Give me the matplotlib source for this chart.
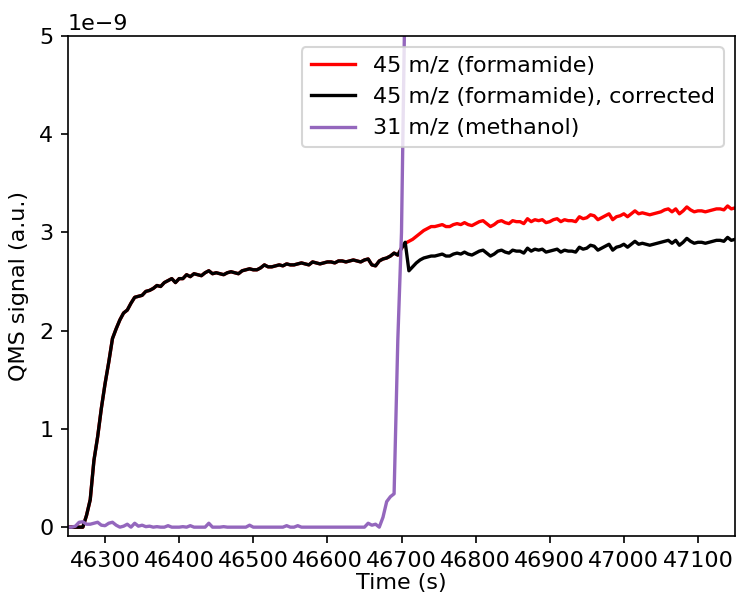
import numpy as np
import matplotlib
matplotlib.use("Agg")
import matplotlib.pyplot as plt

plt.rcParams["font.size"] = 10.7

# time axis (s), sampled every 5 s
t_start, t_step = 46250, 5

# 45 m/z (formamide), raw signal (x1e-9)
formamide = [
    0.00, 0.00, 0.00, 0.00, 0.00, 0.12, 0.28, 0.68, 0.92, 1.21,
    1.46, 1.68, 1.92, 2.02, 2.11, 2.18, 2.21, 2.28, 2.34, 2.35,
    2.36, 2.40, 2.41, 2.43, 2.46, 2.45, 2.49, 2.51, 2.53, 2.49,
    2.53, 2.53, 2.57, 2.55, 2.58, 2.57, 2.56, 2.59, 2.61, 2.58,
    2.59, 2.58, 2.57, 2.59, 2.60, 2.59, 2.58, 2.61, 2.62, 2.63,
    2.62, 2.62, 2.64, 2.67, 2.65, 2.65, 2.66, 2.67, 2.66, 2.68,
    2.67, 2.67, 2.68, 2.69, 2.68, 2.67, 2.70, 2.69, 2.68, 2.69,
    2.70, 2.70, 2.69, 2.71, 2.71, 2.70, 2.71, 2.72, 2.71, 2.70,
    2.72, 2.73, 2.67, 2.66, 2.71, 2.73, 2.74, 2.76, 2.79, 2.77,
    2.84, 2.89, 2.91, 2.93, 2.96, 2.99, 3.02, 3.04, 3.06, 3.06,
    3.07, 3.08, 3.06, 3.06, 3.08, 3.09, 3.08, 3.10, 3.08, 3.07,
    3.09, 3.11, 3.12, 3.09, 3.06, 3.08, 3.11, 3.12, 3.10, 3.09,
    3.12, 3.11, 3.11, 3.09, 3.14, 3.11, 3.13, 3.12, 3.13, 3.10,
    3.11, 3.13, 3.14, 3.11, 3.13, 3.12, 3.12, 3.11, 3.16, 3.14,
    3.15, 3.18, 3.17, 3.13, 3.15, 3.17, 3.19, 3.13, 3.16, 3.17,
    3.19, 3.16, 3.19, 3.22, 3.19, 3.20, 3.19, 3.18, 3.19, 3.20,
    3.21, 3.23, 3.24, 3.21, 3.24, 3.19, 3.22, 3.26, 3.23, 3.21,
    3.22, 3.22, 3.21, 3.22, 3.23, 3.24, 3.24, 3.23, 3.27, 3.24,
    3.25,
]

# 45 m/z (formamide), corrected (x1e-9)
formamide_corr = [
    0.00, 0.00, 0.00, 0.00, 0.00, 0.12, 0.28, 0.68, 0.92, 1.21,
    1.46, 1.68, 1.92, 2.02, 2.11, 2.18, 2.21, 2.28, 2.34, 2.35,
    2.36, 2.40, 2.41, 2.43, 2.46, 2.45, 2.49, 2.51, 2.53, 2.49,
    2.53, 2.53, 2.57, 2.55, 2.58, 2.57, 2.56, 2.59, 2.61, 2.58,
    2.59, 2.58, 2.57, 2.59, 2.60, 2.59, 2.58, 2.61, 2.62, 2.63,
    2.62, 2.62, 2.64, 2.67, 2.65, 2.65, 2.66, 2.67, 2.66, 2.68,
    2.67, 2.67, 2.68, 2.69, 2.68, 2.67, 2.70, 2.69, 2.68, 2.69,
    2.70, 2.70, 2.69, 2.71, 2.71, 2.70, 2.71, 2.72, 2.71, 2.70,
    2.72, 2.73, 2.67, 2.66, 2.71, 2.73, 2.74, 2.76, 2.79, 2.77,
    2.84, 2.90, 2.61, 2.65, 2.69, 2.72, 2.74, 2.75, 2.76, 2.76,
    2.77, 2.78, 2.76, 2.76, 2.78, 2.79, 2.78, 2.80, 2.78, 2.77,
    2.79, 2.81, 2.82, 2.79, 2.76, 2.78, 2.81, 2.82, 2.80, 2.79,
    2.82, 2.81, 2.81, 2.79, 2.84, 2.81, 2.83, 2.82, 2.83, 2.80,
    2.81, 2.82, 2.83, 2.80, 2.82, 2.81, 2.81, 2.80, 2.85, 2.83,
    2.84, 2.87, 2.86, 2.82, 2.84, 2.86, 2.88, 2.82, 2.85, 2.86,
    2.88, 2.85, 2.88, 2.91, 2.88, 2.89, 2.88, 2.87, 2.88, 2.89,
    2.90, 2.91, 2.92, 2.89, 2.92, 2.87, 2.90, 2.94, 2.91, 2.89,
    2.90, 2.90, 2.89, 2.90, 2.91, 2.92, 2.92, 2.91, 2.95, 2.92,
    2.93,
]

# 31 m/z (methanol) (x1e-9); goes off scale after the dose starts
methanol = [
    0.00, 0.00, 0.01, 0.05, 0.055, 0.03, 0.03, 0.04, 0.05, 0.02,
    0.015, 0.04, 0.05, 0.02, 0.00, 0.01, 0.03, 0.00, 0.04, 0.01,
    0.02, 0.005, 0.01, 0.00, 0.005, 0.00, 0.00, 0.015, 0.00, 0.00,
    0.00, 0.005, 0.00, 0.015, 0.00, 0.00, 0.00, 0.00, 0.04, 0.00,
    0.00, 0.00, 0.005, 0.00, 0.00, 0.00, 0.00, 0.00, 0.00, 0.02,
    0.00, 0.00, 0.00, 0.00, 0.00, 0.00, 0.00, 0.00, 0.00, 0.015,
    0.00, 0.00, 0.015, 0.00, 0.00, 0.00, 0.00, 0.00, 0.00, 0.00,
    0.00, 0.00, 0.00, 0.00, 0.00, 0.00, 0.00, 0.00, 0.00, 0.00,
    0.00, 0.04, 0.02, 0.03, 0.00, 0.10, 0.26, 0.31, 0.34, 1.90,
    3.00, 5.60, 9.00,
]

labels = ["45 m/z (formamide)", "45 m/z (formamide), corrected", "31 m/z (methanol)"]
colors = ["red", "black", "#9467bd"]
xticks = [46300, 46400, 46500, 46600, 46700, 46800, 46900, 47000, 47100]
yticks = [0, 1, 2, 3, 4, 5]

t = t_start + t_step * np.arange(len(formamide))
t_m = t_start + t_step * np.arange(len(methanol))

fig = plt.figure(figsize=(736 / 150, 594 / 150), dpi=150)
ax = fig.add_axes([68 / 736, 1 - 536 / 594, 667 / 736, 500 / 594])

ax.plot(t, np.array(formamide) * 1e-9, color=colors[0], label=labels[0], lw=1.6)
ax.plot(t, np.array(formamide_corr) * 1e-9, color=colors[1], label=labels[1], lw=1.6)
ax.plot(t_m, np.array(methanol) * 1e-9, color=colors[2], label=labels[2], lw=1.6)

ax.set_xlim(46250, 47150)
ax.set_ylim(-0.09e-9, 5e-9)
ax.set_xticks(xticks)
ax.set_yticks([v * 1e-9 for v in yticks])
ax.set_xlabel("Time (s)", labelpad=1)
ax.set_ylabel("QMS signal (a.u.)", labelpad=5)
ax.legend(loc="upper right")

fig.savefig("out.png", dpi=150)
